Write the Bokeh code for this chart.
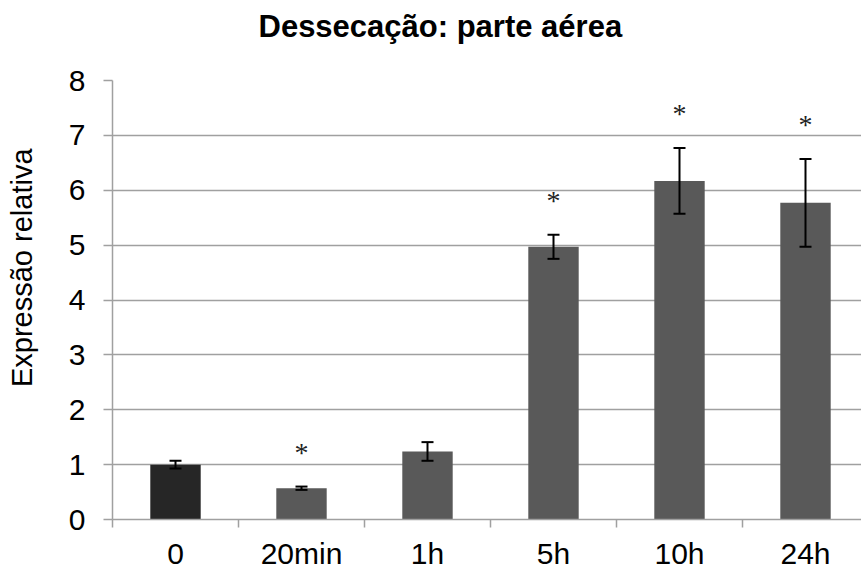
from bokeh.plotting import figure
from bokeh.models import (ColumnDataSource, Range1d, FixedTicker, Whisker, TeeHead, Title)
from bokeh.core.properties import value
from bokeh.embed import file_html
from bokeh.resources import INLINE

# Relative expression over desiccation time (aerial part)
categories = ["0", "20min", "1h", "5h", "10h", "24h"]
expression = [1.00, 0.57, 1.24, 4.97, 6.17, 5.77]
std_error = [0.07, 0.03, 0.17, 0.22, 0.60, 0.80]
significant = [False, True, False, True, True, True]
y_ticks = [0, 1, 2, 3, 4, 5, 6, 7, 8]

FONT = "Liberation Sans"
GRID = "#a0a0a0"

centers = [i + 0.5 for i in range(len(categories))]
colors = ["#262626"] + ["#595959"] * (len(categories) - 1)

src = ColumnDataSource(dict(
    x=centers,
    top=expression,
    upper=[v + e for v, e in zip(expression, std_error)],
    lower=[v - e for v, e in zip(expression, std_error)],
    color=colors,
))

p = figure(width=861, height=572, output_backend="svg", toolbar_location=None,
           x_range=Range1d(0, 749 / 126), y_range=Range1d(0, 8),
           min_border_left=112, min_border_right=0, min_border_top=80,
           min_border_bottom=53, outline_line_color=None)

p.title.text = "Dessecação: parte aérea"
p.title.text_font = FONT
p.title.text_font_size = "31px"
p.title.text_font_style = "bold"
p.title.text_color = "black"
p.title.align = "left"
p.title.offset = 146
p.title.standoff = 0

# blank spacer between the title and the plot frame
p.add_layout(Title(text=" ", text_font_size="1px", standoff=34), "above")

p.vbar(x="x", top="top", width=0.40, fill_color="color", line_color=None, source=src)

whisker = Whisker(base="x", upper="upper", lower="lower", source=src, level="overlay",
                  line_color="black", line_width=2,
                  upper_head=TeeHead(size=12, line_color="black", line_width=2),
                  lower_head=TeeHead(size=12, line_color="black", line_width=2))
p.add_layout(whisker)

# Significance markers above the error bars
sx = [c for c, s in zip(centers, significant) if s]
sy = [v + e + 0.62 for v, e, s in zip(expression, std_error, significant) if s]
p.text(x=sx, y=sy, text=["*"] * len(sx), text_align="center", text_baseline="middle",
       text_font=value("Liberation Serif"), text_font_size="28px", text_color="#222222")

# X axis: labels at bar centres, tick marks at category boundaries
xax = p.xaxis[0]
xax.ticker = FixedTicker(ticks=centers, minor_ticks=list(range(len(categories) + 1)))
xax.major_label_overrides = {c: lab for c, lab in zip(centers, categories)}
xax.major_tick_line_color = None
xax.minor_tick_in = 0
xax.minor_tick_out = 8
xax.minor_tick_line_color = GRID
xax.minor_tick_line_width = 1.5
xax.axis_line_color = GRID
xax.axis_line_width = 1.5
xax.major_label_text_font = FONT
xax.major_label_text_font_size = "30px"
xax.major_label_text_color = "black"
xax.major_label_standoff = 9

yax = p.yaxis[0]
yax.ticker = FixedTicker(ticks=y_ticks)
yax.minor_tick_line_color = None
yax.major_tick_in = 0
yax.major_tick_out = 9
yax.major_tick_line_color = GRID
yax.major_tick_line_width = 1.5
yax.axis_line_color = GRID
yax.axis_line_width = 1.5
yax.major_label_text_font = FONT
yax.major_label_text_font_size = "30px"
yax.major_label_text_color = "black"
yax.major_label_standoff = 18
# leading no-break spaces nudge the rotated label up along the axis
yax.axis_label = "\u00a0" * 8 + "Expressão relativa"
yax.axis_label_text_font = FONT
yax.axis_label_text_font_size = "29px"
yax.axis_label_text_font_style = "normal"
yax.axis_label_text_color = "black"
yax.axis_label_standoff = 28

p.xgrid.grid_line_color = None
p.ygrid.grid_line_color = GRID
p.ygrid.grid_line_width = 1.5

open("out.html", "w").write(file_html(p, INLINE))
